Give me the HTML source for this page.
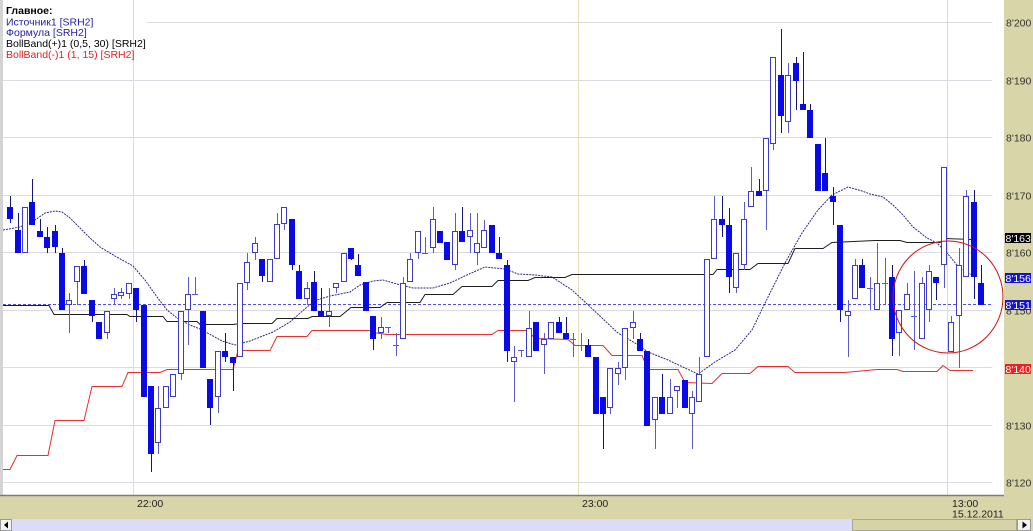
<!DOCTYPE html>
<html><head><meta charset="utf-8">
<style>
html,body{margin:0;padding:0;background:#fff;}
body{width:1033px;height:531px;overflow:hidden;}
svg{display:block;}
text{font-family:"Liberation Sans","DejaVu Sans",sans-serif;}
</style></head>
<body>
<svg id="c" width="1033" height="531" viewBox="0 0 1033 531" xmlns="http://www.w3.org/2000/svg">
<rect x="0" y="0" width="1033" height="531" fill="#fff"/>
<rect x="0" y="0" width="3" height="495" fill="#d4d4d4"/>
<g stroke="#dadae2" stroke-width="1" shape-rendering="crispEdges">
<line x1="147" y1="22.5" x2="992" y2="22.5"/>
<line x1="3" y1="80.5" x2="992" y2="80.5"/>
<line x1="3" y1="137.5" x2="992" y2="137.5"/>
<line x1="3" y1="195.5" x2="992" y2="195.5"/>
<line x1="3" y1="252.5" x2="992" y2="252.5"/>
<line x1="3" y1="310.5" x2="992" y2="310.5"/>
<line x1="3" y1="367.5" x2="992" y2="367.5"/>
<line x1="3" y1="425.5" x2="992" y2="425.5"/>
<line x1="3" y1="482.5" x2="992" y2="482.5"/>
</g>
<g stroke="#e2dfb8" stroke-width="1" shape-rendering="crispEdges">
<line x1="133.5" y1="0" x2="133.5" y2="495"/>
<line x1="578.5" y1="0" x2="578.5" y2="495"/>
<line x1="947.5" y1="0" x2="947.5" y2="495"/>
</g>
<line x1="3" y1="304.5" x2="993" y2="304.5" stroke="#5050e8" stroke-width="1" stroke-dasharray="3,2" shape-rendering="crispEdges"/>
<g id="lines"></g>
<g id="candles" shape-rendering="crispEdges"></g>
<ellipse cx="948" cy="297" rx="55" ry="56" fill="none" stroke="#d01010" stroke-width="1"/>

<!-- legend -->
<g font-size="10.5">
<text x="6" y="13.8" font-weight="bold" fill="#000">Главное:</text>
<text x="6" y="25.3" fill="#2323a6">Источник1 [SRH2]</text>
<text x="6" y="35.8" fill="#2323a6">Формула [SRH2]</text>
<text x="6" y="46.8" fill="#000">BollBand(+)1 (0,5, 30) [SRH2]</text>
<text x="6" y="57.8" fill="#e02020">BollBand(-)1 (1, 15) [SRH2]</text>
</g>

<!-- right axis panel -->
<rect x="1004" y="0" width="29" height="496" fill="#d8d5a9"/>
<!-- bottom band -->
<rect x="0" y="496" width="1033" height="23" fill="#d8d5a9"/>
<line x1="0" y1="495.5" x2="1004" y2="495.5" stroke="#7c7c7c" stroke-width="1.5"/>

<g font-size="10.5" fill="#333">
<text x="1006" y="26.3">8'200</text>
<text x="1006" y="84.3">8'190</text>
<text x="1006" y="141.3">8'180</text>
<text x="1006" y="199.3">8'170</text>
<text x="1006" y="256.3">8'160</text>
<text x="1006" y="314.3">8'150</text>
<text x="1006" y="429.3">8'130</text>
<text x="1006" y="486.3">8'120</text>
</g>
<rect x="1005" y="233" width="26" height="10" fill="#000"/>
<rect x="1005" y="273" width="26" height="10" fill="#1515c8"/>
<rect x="1005" y="300" width="26" height="10" fill="#1515c8"/>
<rect x="1005" y="364" width="26" height="10" fill="#ee2020"/>
<g font-size="10.5" fill="#fff">
<text x="1005.5" y="241.8">8'163</text>
<text x="1005.5" y="281.8">8'156</text>
<text x="1005.5" y="308.8">8'151</text>
<text x="1005.5" y="372.8">8'140</text>
</g>

<g font-size="10.5" fill="#222">
<text x="137" y="507">22:00</text>
<text x="582" y="507">23:00</text>
<text x="952" y="507">13:00</text>
<text x="952" y="517.5">15.12.2011</text>
</g>

<!-- scrollbar -->
<rect x="0" y="519" width="1033" height="12" fill="#dcdcf8"/>
<rect x="0.5" y="519.5" width="11" height="11" fill="#f2f2f2" stroke="#9a9a9a"/>
<polygon points="4,525 8,521.5 8,528.5" fill="#000"/>
<rect x="852.5" y="519.5" width="164" height="11" fill="#d6d3a6" stroke="#aaa78a"/>
<rect x="1017.5" y="519.5" width="13" height="11" fill="#f2f2f2" stroke="#9a9a9a"/>
<polygon points="1027,525 1022.5,521.5 1022.5,528.5" fill="#000"/>
<rect x="1031" y="519" width="2" height="12" fill="#d8d5a9"/>
</svg>
<script>
(function(){
var NS="http://www.w3.org/2000/svg";
function poly(pts,stroke,dash,w){
  var p=document.createElementNS(NS,"polyline");
  p.setAttribute("points",pts.map(function(a){return a[0]+","+a[1];}).join(" "));
  p.setAttribute("fill","none");p.setAttribute("stroke",stroke);
  p.setAttribute("stroke-width",w||1);
  if(dash)p.setAttribute("stroke-dasharray",dash);
  document.getElementById("lines").appendChild(p);
}
var red=[[3,469.5],[10,469.5],[17,455.5],[48,455.5],[55,420.5],[84,420.5],[92,386.5],[122,386.5],[128,372.5],[160,372.5],[167,369.5],[233,369.5],[238,350.5],[270,350.5],[277,336.5],[307,336.5],[312,330.5],[370,330.5],[373,332.5],[387,334.5],[492,334.5],[498,330.5],[528,330.5],[535,338.5],[568,339.5],[575,345.5],[603,345.5],[612,355.5],[642,355.5],[648,369.5],[678,369.5],[685,382.5],[712,383.5],[722,373.5],[750,373.5],[758,366.5],[788,366.5],[795,372.5],[845,372.5],[877,369.5],[897,369.5],[903,371.5],[937,371.5],[943,365.5],[950,370.5],[973,370.5]];
var black=[[3,305.5],[49,305.5],[54,314.5],[127,314.5],[130,316.5],[163,316.5],[167,321.5],[197,321.5],[200,324.5],[233,324.5],[240,323.5],[272,323.5],[277,318.5],[308,318.5],[312,316.5],[340,316.5],[351,307.5],[380,307.5],[387,302.5],[420,302.5],[425,294.5],[453,294.5],[462,286.5],[492,286.5],[498,280.5],[528,280.5],[535,277.5],[565,277.5],[572,274.5],[713,274.5],[717,269.5],[750,269.5],[758,263.5],[788,263.5],[795,248.5],[823,248.5],[832,242.5],[875,240.5],[900,240.5],[907,242.5],[940,242.5],[945,238.5],[972,239.5]];
var blue=[[3,230],[20,227],[35,220],[45,213],[55,211],[62,212],[70,218],[80,228],[90,238],[100,247],[115,256],[133,266],[145,280],[157,297],[167,310],[177,318],[190,325],[200,329],[213,336],[222,341],[235,345],[250,341],[273,332],[290,322],[307,307],[317,300],[330,296],[350,292],[360,285],[373,281],[383,280],[397,284],[413,288],[433,288],[450,283],[467,275],[485,267],[505,269],[518,274],[535,275],[552,277],[572,290],[585,302],[602,318],[618,333],[635,343],[648,352],[668,360],[685,368],[698,374],[715,362],[735,350],[752,330],[768,297],[785,263],[802,233],[818,210],[832,195],[848,187],[862,191],[870,194],[883,197],[893,205],[903,215],[913,227],[927,238],[937,243],[947,253],[957,265],[967,273],[973,275]];
poly(red,"#e03030");
poly(black,"#1e1e1e");
poly(blue,"#2a2a80","2,1");
var D=[
[196,207,219,223,1],[213,230,253,253,1],[207,207,253,253,0],[179,202,225,225,1],[219,231,237,237,1],
[227,237,248,253,1],[225,231,247,253,1],[248,253,310,310,1],[293,300,305,333,0],[266,266,282,305,0],
[260,266,294,294,1],[300,300,316,322,1],[322,322,339,339,1],[311,311,333,339,0],[288,294,299,305,0],
[288,292,296,299,0],[283,283,294,299,0],[288,288,310,322,1],[305,305,397,397,1],[386,386,454,472,1],
[386,408,443,454,0],[386,386,408,408,0],[374,374,397,397,0],[311,311,374,380,0],[277,294,310,345,0],
[277,294,294,294,2],[311,311,368,368,1],[379,379,408,425,1],[351,351,397,413,0],[333,351,357,362,1],
[357,357,363,391,1],[283,283,357,357,0],[253,262,283,290,0],[237,243,253,260,0],[259,259,276,282,1],
[259,259,282,282,0],[213,224,259,259,0],[207,207,224,230,0],[219,219,265,270,1],[265,271,299,299,1],
[282,288,299,305,0],[271,282,311,311,1],[288,311,316,316,1],[288,311,316,327,0],[283,283,288,293,0],
[253,253,282,282,0],[248,248,259,260,1],[254,265,276,276,1],[282,282,311,311,1],[316,316,339,350,1],
[317,327,333,339,0],[327,327,327,333,2],[333,345,345,356,2],[277,283,339,339,0],[253,259,282,282,0],
[231,231,253,259,0],[237,253,253,253,2],[207,219,248,253,0],[231,231,243,243,1],[242,242,260,260,1],
[213,231,265,270,0],[207,231,242,242,1],[213,230,237,253,0],[213,243,253,265,0],[220,230,248,248,0],
[225,225,253,253,1],[237,253,259,259,1],[260,265,351,362,1],[346,357,362,402,0],[350,350,350,357,2],
[311,328,357,357,0],[322,322,351,351,1],[333,339,345,374,0],[322,322,339,339,0],[317,322,333,333,1],
[317,333,339,339,1],[333,339,339,357,2],[333,345,345,351,2],[339,345,357,357,1],[357,357,414,414,1],
[397,397,414,449,1],[368,368,408,414,0],[362,368,374,385,0],[328,328,368,380,0],[311,322,328,339,0],
[333,339,351,351,1],[351,351,426,426,1],[397,397,420,449,0],[374,397,414,414,1],[379,397,414,414,0],
[386,386,391,408,0],[380,380,408,408,1],[391,397,414,449,0],[357,374,402,402,0],[259,259,357,357,0],
[196,219,259,259,0],[196,219,225,237,1],[208,225,277,293,1],[253,253,288,293,0],[202,219,265,270,0],
[167,191,207,207,0],[179,191,196,196,1],[138,138,191,230,0],[57,57,144,150,0],[29,75,116,133,1],
[63,75,122,133,0],[57,63,81,110,1],[52,104,110,110,1],[104,110,138,138,1],[144,144,191,191,1],
[138,173,191,191,1],[187,196,202,225,1],[225,225,310,322,1],[300,311,316,357,0],[259,265,299,299,0],
[259,265,288,288,1],[277,288,288,310,2],[243,283,310,310,0],[258,283,283,305,2],[265,277,339,356,1],
[310,310,333,356,0],[283,294,310,310,0],[271,316,316,350,2],[277,283,339,339,0],[265,271,310,322,0],
[277,277,283,300,1],[167,167,265,288,0],[316,322,352,352,0],[248,265,316,368,0],[190,196,277,277,0],
[190,202,277,299,1],[265,283,305,305,1]
];
var s="";
for(var i=0;i<D.length;i++){
  var d=D[i],c=Math.round(10.2+7.41*i),hi=d[0],bt=d[1],bb=d[2],lo=d[3],t=d[4];
  var wc=(t==1)?"#15157a":"#5a5ac8";
  s+='<rect x="'+c+'" y="'+hi+'" width="1" height="'+Math.max(lo-hi,1)+'" fill="'+wc+'"/>';
  if(t==1){
    s+='<rect x="'+(c-3)+'" y="'+bt+'" width="6" height="'+Math.max(bb-bt,1)+'" fill="#0a0ae6"/>';
  }else if(t==0){
    s+='<rect x="'+(c-2.5)+'" y="'+(bt+0.5)+'" width="5" height="'+Math.max(bb-bt-1,1)+'" fill="#fff" stroke="#3c3cc8" stroke-width="1"/>';
  }else{
    s+='<rect x="'+(c-3)+'" y="'+bt+'" width="6" height="1" fill="'+wc+'"/>';
  }
}
document.getElementById("candles").innerHTML=s;
})();
</script>
</body></html>
